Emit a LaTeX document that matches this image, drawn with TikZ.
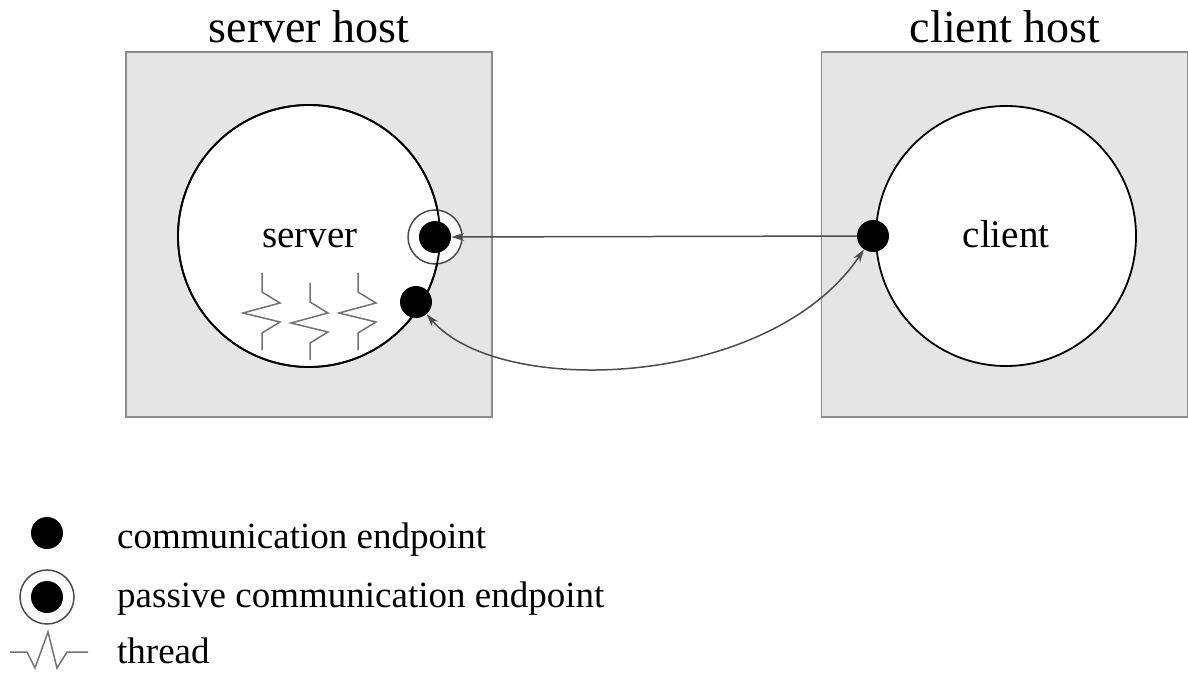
\documentclass[tikz,border=0pt]{standalone}
\usepackage{fontspec}
\setmainfont{Liberation Serif}
\usetikzlibrary{positioning,arrows.meta}
\tikzset{
  hostbox/.style={draw=black!45,line width=1.5pt,fill=black!10,minimum width=366pt,minimum height=365pt},
  proc/.style={circle,draw,line width=1.8pt,fill=white,inner sep=0pt},
  endpt/.style={circle,fill=black,inner sep=0pt,minimum size=32pt},
  ring/.style={circle,draw=black!70,line width=1.5pt,fill=white,inner sep=0pt,minimum size=54pt},
  thread/.style={draw=black!55,line width=1.5pt,line join=miter},
  link/.style={draw=black!70,line width=1.5pt}
}
\begin{document}
\begin{tikzpicture}[x=1pt,y=1pt,>={Stealth[length=13pt,width=8pt]}]
  \useasboundingbox (0,0) rectangle (1188,673);
  \node[hostbox] (shost) at (309,438.5) {};
  \node[hostbox] (chost) at (1004.5,438.5) {};
  \node[anchor=base,font=\fontsize{46}{50}\selectfont] (stitle) at (309,630) {server host};
  \node[anchor=base,font=\fontsize{46}{50}\selectfont] (ctitle) at (1005,630) {client host};
  \node[proc,minimum size=262pt] (server) at (309,437) {};
  \node[proc,minimum size=260pt] (client) at (1006,437) {};
  \node[anchor=base,font=\fontsize{39}{44}\selectfont] (slabel) at (310,425) {server};
  \node[anchor=base,font=\fontsize{39}{44}\selectfont] (clabel) at (1006,425) {client};
  % threads
  \foreach \dx/\dy in {0/0,48/10,96/0}
    \draw[thread] (262+\dx,400-\dy) -- ++(0,-19) -- ++(18,-11) -- ++(-37,-10) -- ++(37,-9) -- ++(-18,-11) -- ++(0,-17);
  % endpoints
  \node[ring] (pring) at (435,436) {};
  \draw[line width=1.8pt] (server.center) circle (131pt);
  \node[endpt] (pep) at (pring.center) {};
  \node[endpt] (sep) at (416,371) {};
  \node[endpt] (cep) at (873,437) {};
  \draw[link,->] (cep) -- (pep);
  \draw[link,<->] (sep) .. controls (500,274) and (770,284) .. (cep);
  % legend
  \node[endpt] (lep) at (47,140) {};
  \node[ring] (lring) at (47,76) {};
  \node[endpt] (lpep) at (lring.center) {};
  \draw[thread] (10,21) -- (27,21) -- (35,5) -- (48,41) -- (57,5) -- (67,21) -- (88,21);
  \node[anchor=base west,inner sep=0pt,font=\fontsize{37}{41}\selectfont] (lt1) at (117,125) {communication endpoint};
  \node[anchor=base west,inner sep=0pt,font=\fontsize{37}{41}\selectfont] (lt2) at (117,66) {passive communication endpoint};
  \node[anchor=base west,inner sep=0pt,font=\fontsize{37}{41}\selectfont] (lt3) at (117,10) {thread};
\end{tikzpicture}
\end{document}
